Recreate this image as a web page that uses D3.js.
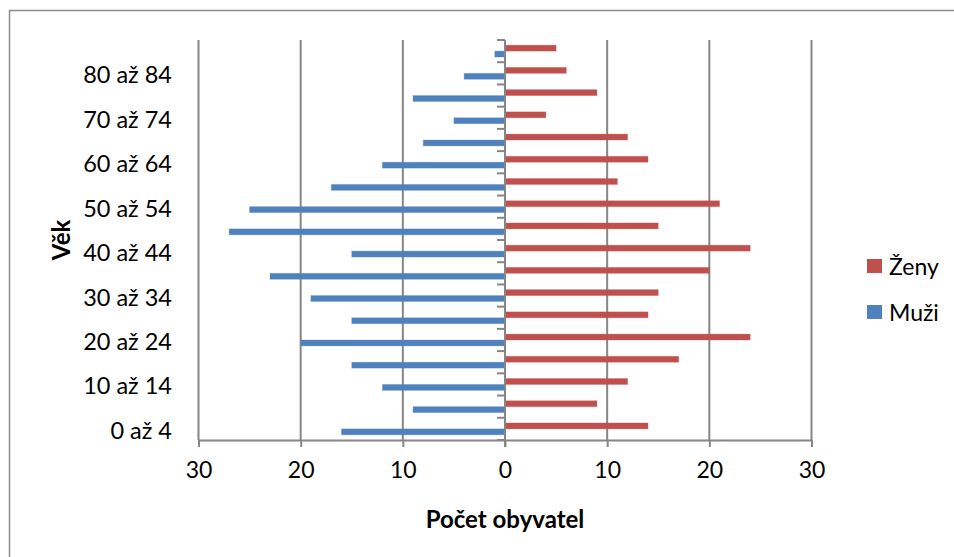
<!DOCTYPE html>
<html>
<head>
<meta charset="utf-8">
<script src="https://cdn.jsdelivr.net/npm/d3@7"></script>
<style>
  html, body { margin: 0; padding: 0; background: #fff; }
  svg { display: block; font-family: Lato, "Open Sans", sans-serif; }
</style>
</head>
<body>
<svg id="chart" width="954" height="557"></svg>
<script>
const categories = ["0 až 4","5 až 9","10 až 14","15 až 19","20 až 24","25 až 29","30 až 34","35 až 39","40 až 44","45 až 49","50 až 54","55 až 59","60 až 64","65 až 69","70 až 74","75 až 79","80 až 84","85 až 89"];
const muzi = [16, 9, 12, 15, 20, 15, 19, 23, 15, 27, 25, 17, 12, 8, 5, 9, 4, 1];
const zeny = [14, 9, 12, 17, 24, 14, 15, 20, 24, 15, 21, 11, 14, 12, 4, 9, 6, 5];
const xTicks = [-30, -20, -10, 0, 10, 20, 30];
const seriesNames = ["Ženy", "Muži"];
const colors = { "Ženy": "#C0504D", "Muži": "#4F81BD" };

(function () {
const svg = d3.select("#chart");
const gridColor = "#868686";

// chart frame
svg.append("rect").attr("x", 9.5).attr("y", 10.5).attr("width", 960).attr("height", 560)
  .attr("fill", "#fff").attr("stroke", "#8c8c8c").attr("stroke-width", 1.5);

const pLeft = 198.5, pRight = 811.5, pTop = 40, pBottom = 440;
const x = d3.scaleLinear().domain([-30, 30]).range([pLeft, pRight]);
const y = d3.scaleBand().domain(categories.slice().reverse()).range([pTop, pBottom]).padding(0);
const sub = d3.scaleBand().domain(seriesNames).range([0, y.bandwidth()]).paddingInner(0).paddingOuter(0.88);

// gridlines
svg.append("g").selectAll("line").data(xTicks.filter(d => d !== 0)).join("line")
  .attr("x1", d => x(d)).attr("x2", d => x(d)).attr("y1", pTop).attr("y2", pBottom)
  .attr("stroke", gridColor).attr("stroke-width", 2);

// bars
const data = [];
categories.forEach((c, i) => {
  data.push({ cat: c, series: "Ženy", value: zeny[i] });
  data.push({ cat: c, series: "Muži", value: -muzi[i] });
});
svg.append("g").selectAll("rect").data(data).join("rect")
  .attr("x", d => Math.min(x(0), x(d.value)))
  .attr("width", d => Math.abs(x(d.value) - x(0)))
  .attr("y", d => y(d.cat) + sub(d.series))
  .attr("height", sub.bandwidth())
  .attr("fill", d => colors[d.series])
  .attr("stroke", d => colors[d.series]).attr("stroke-opacity", 0.3).attr("stroke-width", 1);

// x axis
const xAxis = d3.axisBottom(x).tickValues(xTicks).tickSize(7).tickSizeOuter(0).tickPadding(15)
  .tickFormat(d => Math.abs(d));
const gx = svg.append("g").attr("transform", `translate(0,${pBottom})`).call(xAxis);
gx.select(".domain").attr("stroke", gridColor).attr("stroke-width", 2);
gx.selectAll(".tick line").attr("stroke", gridColor).attr("stroke-width", 2);
gx.selectAll(".tick text").attr("font-family", "Lato, sans-serif").attr("font-size", 23).attr("fill", "#000");

// y axis at zero (category axis)
const gy = svg.append("g").attr("transform", `translate(${x(0)},0)`);
gy.append("line").attr("x1", 0).attr("x2", 0).attr("y1", pTop).attr("y2", pBottom + 7)
  .attr("stroke", gridColor).attr("stroke-width", 2);
const bounds = categories.map(c => y(c)).concat([pBottom]);
gy.selectAll("line.tk").data(bounds).join("line").attr("class", "tk")
  .attr("x1", -8).attr("x2", 0).attr("y1", d => d).attr("y2", d => d)
  .attr("stroke", gridColor).attr("stroke-width", 2);

// category labels (every other)
svg.append("g").selectAll("text").data(categories.filter((c, i) => i % 2 === 0)).join("text")
  .attr("x", 172).attr("y", d => y(d) + y.bandwidth() / 2 + 1)
  .attr("text-anchor", "end").attr("dominant-baseline", "central")
  .attr("font-size", 23.5).attr("fill", "#000").text(d => d);

// axis titles
svg.append("text").attr("x", x(0)).attr("y", 518).attr("text-anchor", "middle")
  .attr("dominant-baseline", "central").attr("font-weight", "bold").attr("font-size", 24)
  .text("Počet obyvatel");
svg.append("text").attr("transform", `translate(60,${(pTop + pBottom) / 2}) rotate(-90)`)
  .attr("text-anchor", "middle").attr("dominant-baseline", "central")
  .attr("font-weight", "bold").attr("font-size", 24).text("Věk");

// legend
const lg = svg.append("g").selectAll("g").data(seriesNames).join("g")
  .attr("transform", (d, i) => `translate(867,${266 + i * 46})`);
lg.append("rect").attr("x", 0).attr("y", -7).attr("width", 15).attr("height", 14)
  .attr("fill", d => colors[d]);
lg.append("text").attr("x", 22).attr("y", 0).attr("dominant-baseline", "central")
  .attr("font-size", 23).attr("fill", "#000").text(d => d);
})();
</script>
</body>
</html>
